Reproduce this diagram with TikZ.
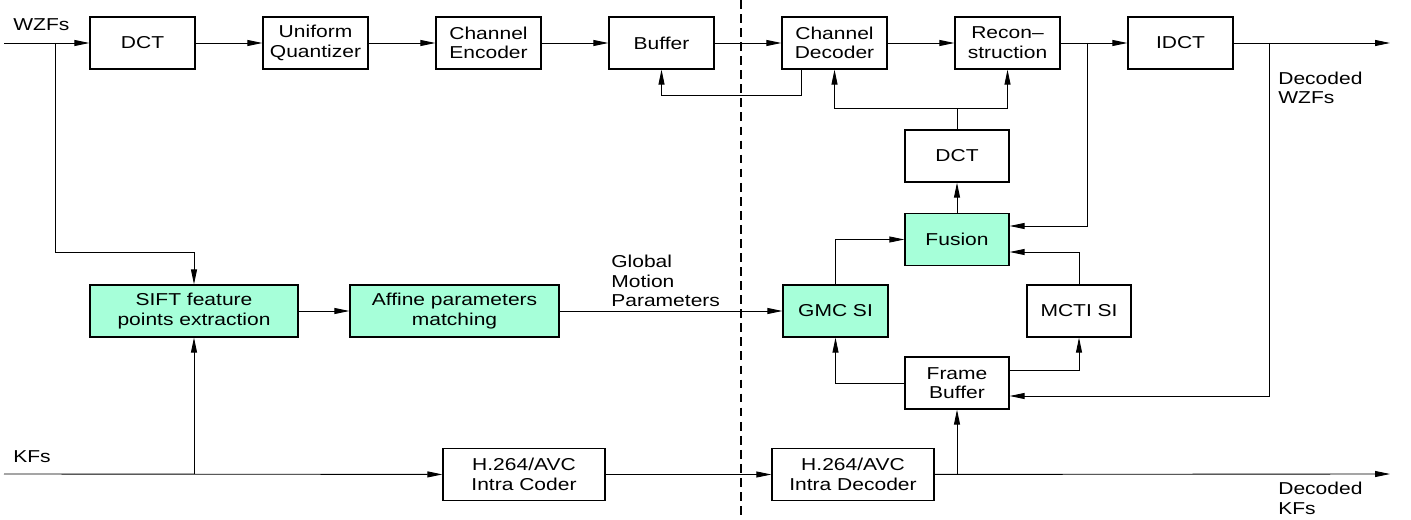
\documentclass[tikz,border=0pt]{standalone}
\usepackage{fontspec}
\setmainfont{Liberation Sans}[FakeStretch=1.22]
\usetikzlibrary{arrows.meta, positioning}
\definecolor{siverde}{RGB}{166,255,217}

\begin{document}
\begin{tikzpicture}[
    x=0.2mm, y=-0.2mm,
    >={Triangle[length=8.5pt,width=3.4pt]},
    block/.style={draw, line width=0.75pt, rectangle, minimum height=1.04cm, minimum width=2.1cm, align=center, inner sep=1pt, font=\fontsize{9.8}{11.2}\selectfont},
    novo/.style={block, fill=siverde},
    rotulo/.style={inner sep=0pt, align=left, font=\fontsize{9.8}{11.2}\selectfont},
    seta/.style={->, line width=0.5pt},
    node distance=3.46cm
]
    \useasboundingbox (0,0) rectangle (1411,519);

    % Codificador WZ (linha de cima)
    \node[rotulo, anchor=west] (wzfs) at (13,25) {WZFs};
    \coordinate (wzin) at (4,43);
    \node[block] (dct) at (142.5,43) {DCT};
    \node[block, right of=dct] (quant) {Uniform\\Quantizer};
    \node[block, right of=quant] (chenc) {Channel\\Encoder};
    \node[block, right of=chenc] (buffer) {Buffer};
    \node[block, right of=buffer] (chdec) {Channel\\Decoder};
    \node[block, right of=chdec] (recon) {Recon--\\struction};
    \node[block, right of=recon] (idct) {IDCT};
    \coordinate (wzout) at (1390,43);
    \node[rotulo, anchor=west] (decwzf) at (1278,88) {Decoded\\WZFs};

    % Informacao lateral
    \node[block, minimum width=2.08cm] (dct2) at (957,156) {DCT};
    \node[novo, minimum width=2.08cm] (fusion) at (957,239.5) {Fusion};
    \node[novo] (gmc) at (835.5,311) {GMC SI};
    \node[block, minimum width=2.08cm] (mcti) at (1079,311) {MCTI SI};
    \node[block, minimum width=2.08cm] (fbuf) at (957,383) {Frame\\Buffer};

    % Movimento global
    \node[novo, minimum width=4.16cm] (sift) at (194,311) {SIFT feature\\points extraction};
    \node[novo, minimum width=4.18cm] (affine) at (454.5,311) {Affine parameters\\matching};
    \node[rotulo, anchor=west] (gmp) at (611,281) {Global\\Motion\\Parameters};

    % Quadros chave
    \node[rotulo, anchor=west] (kfs) at (13,456.5) {KFs};
    \coordinate (kfin) at (4,474);
    \node[block, minimum width=3.24cm] (coder) at (524,474.5) {H.264/AVC\\Intra Coder};
    \node[block, minimum width=3.24cm] (decoder) at (853,474.5) {H.264/AVC\\Intra Decoder};
    \coordinate (kfout) at (1390,474);
    \node[rotulo, anchor=west] (deckf) at (1278,498) {Decoded\\KFs};

    % Pontos de derivacao
    \coordinate (wzbr) at (55,43);
    \coordinate (wzdown) at (55,252);
    \coordinate (rbr) at (1087,43);
    \coordinate (ibr) at (1269,43);
    \coordinate (kfbr) at (194,474);
    \coordinate (fbbr) at (957,474);
    \coordinate (dctsplit) at (957,108);
    \coordinate (cdfb) at (801,95);
    \coordinate (divtop) at (741,0);
    \coordinate (divbot) at (741,519);

    % Linha direta
    \draw[seta] (wzin) -- (dct);
    \draw[seta] (dct) -- (quant);
    \draw[seta] (quant) -- (chenc);
    \draw[seta] (chenc) -- (buffer);
    \draw[seta] (buffer) -- (chdec);
    \draw[seta] (chdec) -- (recon);
    \draw[seta] (recon) -- (idct);
    \draw[seta] (idct) -- (wzout);

    % Realimentacao e informacao lateral
    \draw[seta] (cdfb |- chdec.south) -- (cdfb) -| (buffer);
    \draw[line width=0.5pt] (dct2) -- (dctsplit);
    \draw[seta] (dctsplit) -| (chdec);
    \draw[seta] (dctsplit) -| (recon);
    \draw[seta] (fusion) -- (dct2);
    \draw[seta] (gmc) |- (fusion);
    \draw[seta] (mcti) |- ([yshift=-0.25cm]fusion.east);
    \draw[seta] (rbr) |- ([yshift=0.27cm]fusion.east);
    \draw[seta] (ibr) |- ([yshift=-0.26cm]fbuf.east);
    \draw[seta] (fbuf) -| (gmc);
    \draw[seta] ([yshift=0.26cm]fbuf.east) -| (mcti);

    % Movimento global
    \draw[seta] (wzbr) -- (wzdown) -| (sift);
    \draw[seta] (sift) -- (affine);
    \draw[seta] (affine) -- (gmc);

    % Quadros chave
    \draw[seta] (kfin) -- (coder);
    \draw[seta] (kfbr) -- (sift);
    \draw[seta] (coder) -- (decoder);
    \draw[seta] (decoder) -- (kfout);
    \draw[seta] (fbbr) -- (fbuf);

    % Divisao codificador / decodificador
    \draw[dashed, dash pattern=on 5pt off 3pt, line width=0.6pt] (divtop) -- (divbot);

\end{tikzpicture}
\end{document}
